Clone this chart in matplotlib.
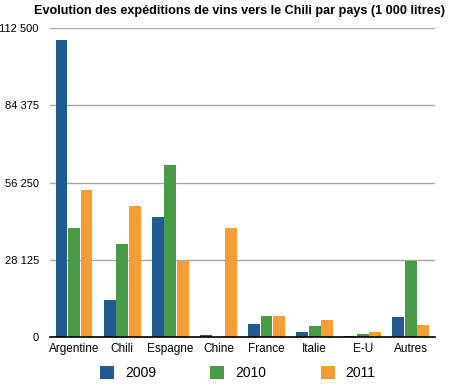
import numpy as np
import matplotlib
matplotlib.use("Agg")
import matplotlib.pyplot as plt
from matplotlib.patches import Patch

# ── Data (1 000 litres) ────────────────────────────────────────────────────
pays = ["Argentine", "Chili", "Espagne", "Chine", "France", "Italie", "E-U", "Autres"]
annees = ["2009", "2010", "2011"]
v2009 = [108300, 13500, 43800, 700, 4700, 1900, 500, 7400]
v2010 = [39800, 33900, 62700, 0, 7700, 4100, 1200, 27800]
v2011 = [53600, 47800, 27800, 39800, 7700, 6300, 1900, 4500]
yticks = [0, 28125, 56250, 84375, 112500]
ytick_labels = ["0", "28 125", "56 250", "84 375", "112 500"]

colors = ["#225B91", "#479C45", "#F79D34"]

plt.rcParams["font.family"] = ["Liberation Sans", "DejaVu Sans"]

fig = plt.figure(figsize=(4.54, 3.86), dpi=100)
ax = fig.add_axes([0.110, 0.127, 0.848, 0.800])

x = np.arange(len(pays))
width = 0.245
offsets = [-0.26, 0.0, 0.26]
for vals, off, col in zip([v2009, v2010, v2011], offsets, colors):
    ax.bar(x + off, vals, width=width, color=col, zorder=3)

ax.set_xlim(-0.5, len(pays) - 0.5)
ax.set_ylim(0, 112500)
ax.set_yticks(yticks)
ax.set_yticklabels(ytick_labels, fontsize=8)
ax.set_xticks(x)
ax.set_xticklabels(pays, fontsize=8.5)
ax.tick_params(axis="both", length=0)
ax.tick_params(axis="y", pad=8)
ax.tick_params(axis="x", pad=4)

for t in yticks[1:]:
    ax.axhline(t, color="#A8A8A8", linewidth=1, zorder=1)

for s in ["top", "right", "left"]:
    ax.spines[s].set_visible(False)
ax.spines["bottom"].set_color("black")
ax.spines["bottom"].set_linewidth(1.2)
ax.spines["bottom"].set_zorder(4)

fig.text(0.527, 0.972, "Evolution des expéditions de vins vers le Chili par pays (1 000 litres)",
         ha="center", va="center", fontsize=9.1, fontweight="bold")

handles = [Patch(facecolor=c, edgecolor="none") for c in colors]
fig.legend(handles, annees, loc="center", bbox_to_anchor=(0.524, 0.033), ncol=3,
           frameon=False, fontsize=10, handlelength=1.0, handleheight=1.0,
           columnspacing=3.9, handletextpad=0.8)

fig.savefig("out.png", dpi=100)
